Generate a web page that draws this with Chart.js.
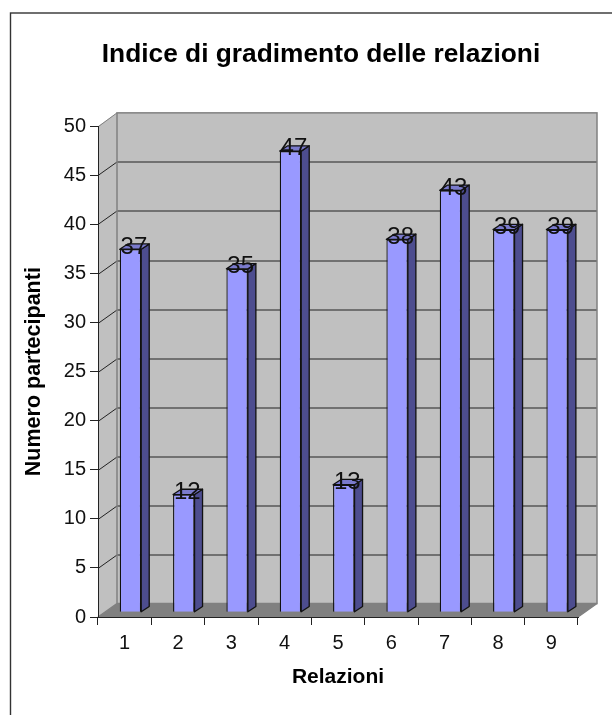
<!DOCTYPE html>
<html>
<head>
<meta charset="utf-8">
<script src="https://cdn.jsdelivr.net/npm/chart.js@4"></script>
<style>
html,body{margin:0;padding:0;background:#fff}
canvas{display:block}
</style>
</head>
<body>
<canvas id="grafico" width="612" height="715"></canvas>
<script>
const relazioni=['1','2','3','4','5','6','7','8','9']
const partecipanti=[37,12,35,47,13,38,43,39,39]
const titolo='Indice di gradimento delle relazioni'
const titoloX='Relazioni'
const titoloY='Numero partecipanti'
const valoreMax=50
const passo=5

// profondita' del finto 3D
const profX=19, profY=13.5
const barX=5.8, barY=4.7
const latoX=8, latoY=5.3

const font='"Liberation Sans", Arial, sans-serif'

const sfondo3d={
  id:'sfondo3d',
  beforeDraw(chart){
    const c=chart.ctx, a=chart.chartArea
    c.save()
    // cornice
    c.strokeStyle='#333'
    c.lineWidth=1.4
    c.strokeRect(10.5,13,800,900)
    // parete di fondo
    c.fillStyle='#c0c0c0'
    c.fillRect(a.left+profX,a.top-profY,a.right-a.left,a.bottom-a.top)
    // parete laterale
    c.beginPath()
    c.moveTo(a.left,a.top)
    c.lineTo(a.left+profX,a.top-profY)
    c.lineTo(a.left+profX,a.bottom-profY)
    c.lineTo(a.left,a.bottom)
    c.closePath()
    c.fill()
    // pavimento
    c.fillStyle='#808080'
    c.beginPath()
    c.moveTo(a.left,a.bottom)
    c.lineTo(a.left+profX,a.bottom-profY)
    c.lineTo(a.right+profX,a.bottom-profY)
    c.lineTo(a.right,a.bottom)
    c.closePath()
    c.fill()
    // griglia
    const y=chart.scales.y
    c.strokeStyle='#222'
    c.lineWidth=1
    y.ticks.forEach((t,i)=>{
      if(t.value==0||t.value==valoreMax) return
      const py=Math.round(y.getPixelForTick(i))+0.5
      c.beginPath()
      c.moveTo(a.left,py)
      c.lineTo(a.left+profX,py-profY)
      c.lineTo(a.right+profX,py-profY)
      c.stroke()
    })
    c.beginPath()
    c.moveTo(a.left,a.top+0.5)
    c.lineTo(a.left+profX,a.top-profY)
    c.strokeStyle='#808080'
    c.stroke()
    // bordo pareti
    c.strokeStyle='#808080'
    c.lineWidth=1.5
    c.strokeRect(a.left+profX,a.top-profY,a.right-a.left,a.bottom-a.top)
    c.beginPath()
    c.moveTo(a.right,a.bottom)
    c.lineTo(a.right+profX,a.bottom-profY)
    c.moveTo(a.left,a.bottom)
    c.lineTo(a.left+profX,a.bottom-profY)
    c.stroke()
    c.restore()
  },
  beforeDatasetDraw(chart){
    chart.ctx.save()
    chart.ctx.translate(barX,-barY)
  },
  afterDatasetDraw(chart,args){
    const c=chart.ctx
    c.lineWidth=1.3
    c.strokeStyle='#111'
    c.lineJoin='round'
    args.meta.data.forEach(b=>{
      const dx=b.x+b.width/2, sx=b.x-b.width/2
      // lato destro
      c.fillStyle='#4d4d8f'
      c.beginPath()
      c.moveTo(dx,b.y)
      c.lineTo(dx+latoX,b.y-latoY)
      c.lineTo(dx+latoX,b.base-latoY)
      c.lineTo(dx,b.base)
      c.closePath()
      c.fill()
      c.stroke()
      // faccia superiore
      c.fillStyle='#7a7acc'
      c.beginPath()
      c.moveTo(sx,b.y)
      c.lineTo(sx+latoX,b.y-latoY)
      c.lineTo(dx+latoX,b.y-latoY)
      c.lineTo(dx,b.y)
      c.closePath()
      c.fill()
      c.stroke()
    })
    c.restore()
  },
  afterDatasetsDraw(chart){
    const c=chart.ctx
    c.save()
    c.font='24px '+font
    c.fillStyle='#111'
    c.textAlign='center'
    c.textBaseline='middle'
    chart.getDatasetMeta(0).data.forEach((b,i)=>{
      c.fillText(partecipanti[i],b.x+barX+3.5,b.y-7)
    })
    c.restore()
  }
}

new Chart(document.getElementById('grafico'),{
  type:'bar',
  data:{
    labels:relazioni,
    datasets:[{
      label:titoloY,
      data:partecipanti,
      backgroundColor:'#9999ff',
      borderColor:'#111',
      borderWidth:1.3,
      categoryPercentage:1,
      barPercentage:0.403
    }]
  },
  options:{
    responsive:false,
    animation:false,
    layout:{padding:{left:64,right:34,top:0,bottom:0}},
    plugins:{
      legend:{display:false},
      tooltip:{enabled:false},
      title:{
        display:true,
        text:titolo,
        color:'#000',
        font:{family:font,size:26.3,weight:'bold',lineHeight:1.2},
        padding:{top:39,bottom:55.8}
      }
    },
    scales:{
      x:{
        afterFit(s){s.height=98},
        grid:{drawOnChartArea:false,offset:true,tickLength:8,color:'#222'},
        border:{color:'#222'},
        ticks:{color:'#111',font:{family:font,size:20},padding:6,maxRotation:0},
        title:{display:true,text:titoloX,color:'#000',font:{family:font,size:21,weight:'bold',lineHeight:1.2},padding:{top:0,bottom:25.4}}
      },
      y:{
        min:0,
        max:valoreMax,
        afterFit(s){s.width=34},
        grid:{drawOnChartArea:false,tickLength:8,color:'#222'},
        border:{color:'#222'},
        ticks:{stepSize:passo,color:'#111',font:{family:font,size:20},padding:4},
        title:{display:true,text:titoloY,color:'#000',font:{family:font,size:21.5,weight:'bold',lineHeight:1.2},padding:{top:-42.5,bottom:0}}
      }
    }
  },
  plugins:[sfondo3d]
})
</script>
</body>
</html>
